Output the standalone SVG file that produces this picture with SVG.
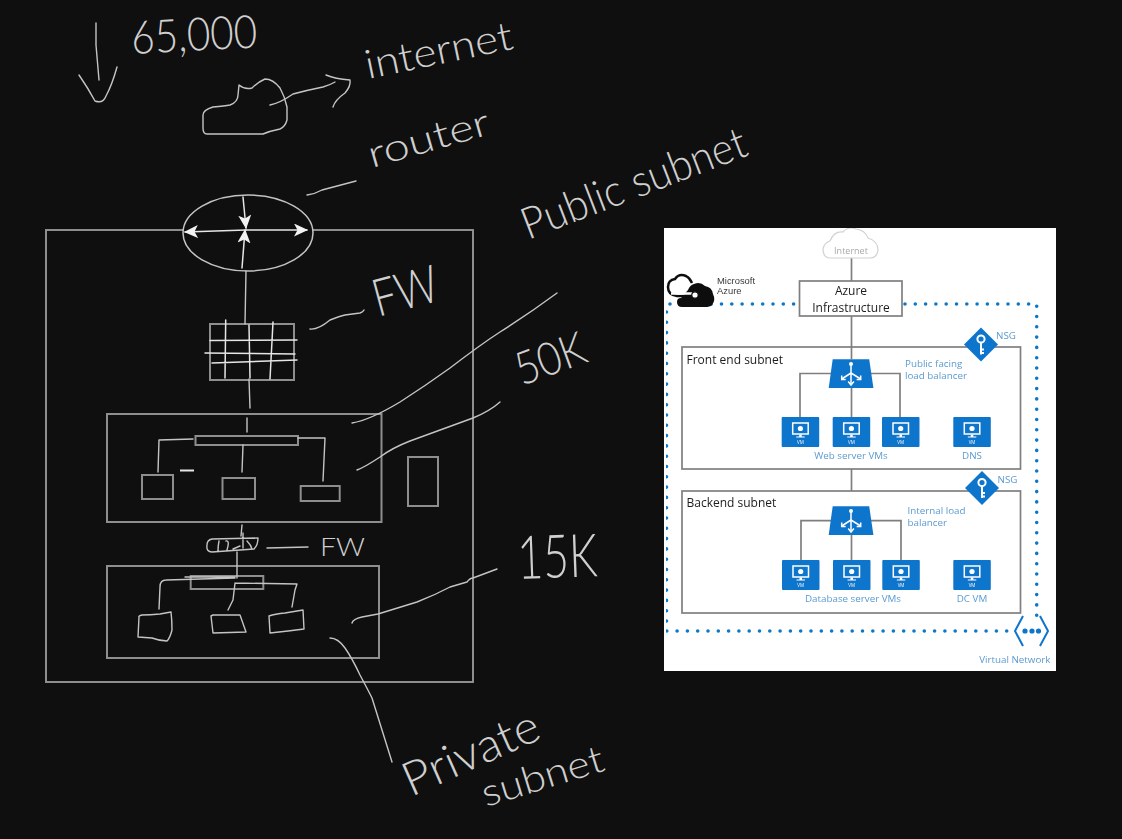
<svg xmlns="http://www.w3.org/2000/svg" xmlns:xlink="http://www.w3.org/1999/xlink" width="1122" height="839" viewBox="0 0 1122 839">
<defs>
<style>
.box{fill:none;stroke:#8e8e8e;stroke-width:2}
.ink{fill:none;stroke:#c4c4c4;stroke-width:1.4;stroke-linecap:round;stroke-linejoin:round}
.bright{fill:none;stroke:#e6e6e6;stroke-width:1.5;stroke-linecap:round}
.hand{font-family:"Lato","Open Sans","Liberation Sans",sans-serif;font-weight:300;fill:#cfcfcf}
.az{font-family:"Open Sans","Liberation Sans",sans-serif}
.pl{fill:none;stroke:#7f7f7f;stroke-width:1.7}
.dark{fill:#1c1c1c;font-size:12px}
.blue{fill:#5b9bd0;font-size:9.8px}
.dots{fill:none;stroke:#0f78c8;stroke-width:3.6;stroke-linecap:round;stroke-dasharray:0 10.3}
</style>
<marker id="ah" markerWidth="15" markerHeight="13" refX="13" refY="6.5" orient="auto" markerUnits="userSpaceOnUse"><path d="M0 0L14 6.500L0 13L3.500 6.500Z" fill="#f2f2f2"/></marker>
<filter id="soft" x="0" y="0" width="100%" height="100%"><feGaussianBlur stdDeviation="0.45"/></filter>
<symbol id="vm" viewBox="0 0 37.5 30" width="37.5" height="30" overflow="visible">
<rect width="37.5" height="30" rx="1" fill="#0f74cc"/>
<rect x="11" y="6" width="15.5" height="11" fill="none" stroke="#fff" stroke-width="1.5"/>
<circle cx="18.7" cy="11.5" r="2.6" fill="#fff"/>
<path d="M17.5 17.5h2.5v2h3v1h-8.500v-1h3z" fill="#fff"/>
<text x="18.700" y="27" text-anchor="middle" font-size="4.500" fill="#fff" font-family="Open Sans,Liberation Sans,sans-serif">VM</text>
</symbol>
<symbol id="lb" viewBox="0 0 45 29" width="45" height="29" overflow="visible">
<path d="M4 0.300H40.500L44.700 29H0Z" fill="#0f74cc"/>
<g fill="none" stroke="#fff" stroke-width="1.500"><path d="M22.300 5V25M22.300 14L13 20M22.300 14L32 20"/><path d="M19.500 22.500L22.300 26L25.200 22.500M13 16.500V20.500H17M32 16.500V20.500H28"/></g><circle cx="22.300" cy="5" r="2" fill="#fff"/>
</symbol>
<symbol id="nsg" viewBox="0 0 34 34" width="34" height="34" overflow="visible">
<path d="M17 0L34 17L17 34L0 17Z" fill="#0f74cc"/>
<circle cx="17" cy="11.500" r="3.600" fill="none" stroke="#fff" stroke-width="2"/>
<path d="M17 15V27M17 22H20M17 25.500H20" fill="none" stroke="#fff" stroke-width="2"/>
</symbol>
</defs>
<rect width="1122" height="839" fill="#0f0f0f"/>
<g id="sketch-boxes">
<rect id="outer-network" class="box" x="46" y="230" width="427" height="452"/>
<rect id="side-box" class="box" x="408" y="457" width="30" height="49"/>
</g>
<g id="router"><ellipse cx="248" cy="233" rx="65" ry="38" fill="#0f0f0f" stroke="#c4c4c4" stroke-width="1.500"/>
<path class="bright" d="M243 197L246 228" marker-end="url(#ah)"/><path class="bright" d="M242 268L245 230" marker-end="url(#ah)"/><path class="bright" d="M246 230L185 232" marker-end="url(#ah)"/><path class="bright" d="M246 230L307 230" marker-end="url(#ah)"/></g>
<g id="firewall"><rect class="box" x="210" y="324" width="84" height="56"/>
<path class="bright" d="M225.700 320L225 378M249 325L250 378M273 322L270 379M210 340.500L297 340M205 353L295 354M212 363L297 360"/></g>
<g id="public-subnet"><rect class="box" x="107" y="414" width="274.500" height="108"/>
<rect class="box" x="195.500" y="436" width="102.500" height="9"/>
<rect class="box" x="142" y="475" width="31" height="24"/><rect class="box" x="222.500" y="478" width="32.500" height="21"/><rect class="box" x="300.700" y="486" width="39" height="15"/>
<path d="M180 470.500H194" fill="none" stroke="#e6e6e6" stroke-width="2"/></g>
<g id="small-firewall"><path class="ink" d="M212 539L258 538Q258 545 254 549L212 552Q206 552 207 545Q207 540 212 539ZM219 541Q218 546 218 551M226 541Q230 540 227 550M233 549L240 546M243 533V548M247 541Q251 545 252 549"/></g>
<g id="private-subnet"><rect class="box" x="107" y="566" width="272" height="92"/>
<rect class="box" x="190.700" y="576" width="72.600" height="13"/>
<path class="ink" d="M139 617Q138 616 142 615Q150 615 160 614L171 612Q172 620 172 630Q170 638 167 641Q160 641 152 638L138 637Z"/><path class="ink" d="M211 616L213 615L240 615L246 632L213 633Z"/><path class="ink" d="M269 616Q275 614 285 613L303 610L304 629L288 631L270 633Z"/></g>
<g id="connectors">
<path class="ink" d="M96 23L96 45L99 80M79 75Q88 88 95 101Q103 104 106 96Q112 85 117 67"/>
<path class="ink" d="M203 115Q203 110 213 107Q225 106 230 105Q238 102 238 95L239 85Q245 90 252 88Q258 82 265 79Q273 79 280 88Q285 97 287 107V120Q285 127 280 129Q270 131 263 134H207Q203 134 203 128Z"/>
<path class="ink" d="M270 105Q280 103 293 94Q308 90 323 87Q330 85 335 82M326 75Q335 79 350 80Q351 86 345 93Q335 100 333 107"/>
<path class="ink" d="M307 195Q315 194 322 190L356 181"/>
<path class="ink" d="M246 271L245 324"/><path class="ink" d="M249 379L250 408"/>
<path class="ink" d="M310 329Q318 330 330 320Q340 316 345 315L360 313Q363 312 364 310"/>
<path class="ink" d="M247 418V432M193 439L159 440L158 472M243 445L242 472M298 438H325L323 481"/>
<path class="ink" d="M242 525L241 536M237 552V578M185 577H235M235 578L166 580Q160 580 160 587L159 609M235 583L233 600L228 610M235 583L297 584L295 590L292 607"/>
<path class="ink" d="M267 548L308 547"/>
<path class="ink" d="M352 423Q370 420 400 402Q425 386 450 368Q480 345 500 332Q530 313 557 293"/>
<path class="ink" d="M357 470Q365 467 380 457Q392 448 410 441L473 418Q490 411 500 402"/>
<path class="ink" d="M352 623Q353 619 362 617L378 614L417 602Q435 595 450 587L467 582Q470 578 473 578L497 569"/>
<path class="ink" d="M330 638Q338 638 345 648Q352 658 360 675Q368 690 372 698L392 762"/>
</g>
<g id="labels-sketch" class="hand">
<text id="t-65000" transform="translate(132 54) rotate(-3)" font-size="46" textLength="126" lengthAdjust="spacingAndGlyphs">65,000</text>
<text id="t-internet" transform="translate(368 79) rotate(-11.700)" font-size="40" textLength="150" lengthAdjust="spacingAndGlyphs">internet</text>
<text id="t-router" transform="translate(372 168) rotate(-16)" font-size="38" textLength="125" lengthAdjust="spacingAndGlyphs">router</text>
<text id="t-public" transform="translate(528 240) rotate(-21)" font-size="44" textLength="238" lengthAdjust="spacingAndGlyphs">Public subnet</text>
<text id="t-fw1" transform="translate(378 317) rotate(-15)" font-size="52" textLength="66" lengthAdjust="spacingAndGlyphs">FW</text>
<text id="t-50k" transform="translate(522 386) rotate(-20)" font-size="46" textLength="72" lengthAdjust="spacingAndGlyphs">50K</text>
<text id="t-fw2" x="320" y="556" font-size="26" textLength="45" lengthAdjust="spacingAndGlyphs">FW</text>
<text id="t-15k" transform="translate(518 579) rotate(-2)" font-size="60" textLength="80" lengthAdjust="spacingAndGlyphs">15K</text>
<text id="t-private" transform="translate(411 797) rotate(-24)" font-size="47" textLength="145" lengthAdjust="spacingAndGlyphs">Private</text>
<text id="t-subnet" transform="translate(486 807) rotate(-17)" font-size="38" textLength="126" lengthAdjust="spacingAndGlyphs">subnet</text>
</g>
<g id="azure-panel">
<rect x="664" y="228" width="392" height="443" fill="#fff"/>
<g filter="url(#soft)">
<g id="az-connectors">
<path class="pl" d="M851.500 258V281M851.500 316V359M851.500 388V417M832 373.500H800V417M871 373.500H900V417M851.500 469V491M851.500 535V560M832 520.700H801V560M871 520.700H901V560"/>
<path class="dots" d="M670 304H800M905 304H1036.700V625M666.500 312V631H1012"/>
</g>
<g id="az-internet"><path d="M829 258Q823 257 823 249Q824 243 830 241Q834 231 843 232Q848 226 856 229Q865 230 868 238Q878 241 878 250Q877 258 870 258Z" fill="#fff" stroke="#d2d2d2" stroke-width="1.200"/><text class="az" x="851" y="254" text-anchor="middle" font-size="9" fill="#a8a8a8">Internet</text></g>
<g id="az-logo"><path d="M684 296H677Q668 295 668 287Q668 280 675 279Q679 273 686 276Q690 278 692 283" fill="none" stroke="#111" stroke-width="2.500"/><path d="M677 302Q677 298 681 298L688 290Q690 285 694 284Q700 281 705 286Q712 287 713 294Q716 300 712 305Q710 307 705 307H682Q677 307 677 302Z" fill="#111"/><path d="M671 293.500H692" stroke="#fff" stroke-width="2.500" fill="none"/><circle cx="695" cy="295" r="3.200" fill="#fff" stroke="#111" stroke-width="1.200"/><text font-family="Liberation Sans,sans-serif" font-size="9.400" fill="#3a3a3a"><tspan x="717" y="283.500">Microsoft</tspan><tspan x="717" y="294">Azure</tspan></text></g>
<g id="az-infra"><rect x="799.500" y="281" width="102.500" height="35" fill="#fff" stroke="#7f7f7f" stroke-width="1.700"/><text class="az dark" text-anchor="middle"><tspan x="851" y="295">Azure</tspan><tspan x="851" y="311.500">Infrastructure</tspan></text></g>
<g id="az-front"><rect class="pl" x="682" y="347" width="338.500" height="122"/><text class="az dark" x="686.500" y="364">Front end subnet</text></g>
<g id="az-back"><rect class="pl" x="682" y="491" width="338.500" height="122"/><text class="az dark" x="686.500" y="507">Backend subnet</text></g>
<g id="az-lb1"><use xlink:href="#lb" href="#lb" x="828.700" y="359"/><text class="az blue" x="905" y="367">Public facing<tspan x="905" y="379">load balancer</tspan></text></g>
<g id="az-lb2"><use xlink:href="#lb" href="#lb" x="828.700" y="506"/><text class="az blue" x="907.500" y="514">Internal load<tspan x="907.500" y="526">balancer</tspan></text></g>
<g id="az-nsg1"><use xlink:href="#nsg" href="#nsg" x="964" y="327.500"/><text class="az blue" x="996" y="339">NSG</text></g>
<g id="az-nsg2"><use xlink:href="#nsg" href="#nsg" x="965" y="471"/><text class="az blue" x="997.500" y="483">NSG</text></g>
<g id="az-web1"><use xlink:href="#vm" href="#vm" x="781.700" y="417"/></g>
<g id="az-web2"><use xlink:href="#vm" href="#vm" x="832.700" y="417"/></g>
<g id="az-web3"><use xlink:href="#vm" href="#vm" x="882" y="417"/></g>
<g id="az-dns"><use xlink:href="#vm" href="#vm" x="953.300" y="417"/><text class="az blue" x="972" y="459" text-anchor="middle">DNS</text></g>
<text class="az blue" x="851" y="459" text-anchor="middle">Web server VMs</text>
<g id="az-db1"><use xlink:href="#vm" href="#vm" x="782" y="560"/></g>
<g id="az-db2"><use xlink:href="#vm" href="#vm" x="833" y="560"/></g>
<g id="az-db3"><use xlink:href="#vm" href="#vm" x="882.300" y="560"/></g>
<g id="az-dc"><use xlink:href="#vm" href="#vm" x="953.300" y="560"/><text class="az blue" x="972" y="602" text-anchor="middle">DC VM</text></g>
<text class="az blue" x="853" y="602" text-anchor="middle">Database server VMs</text>
<g id="az-vnet"><path d="M1023 616L1015 631L1023 646M1040 616L1048 631L1040 646" fill="none" stroke="#0f74cc" stroke-width="2"/><circle cx="1025" cy="631" r="2.600" fill="#0f74cc"/><circle cx="1032" cy="631" r="2.600" fill="#0f74cc"/><circle cx="1038.500" cy="631" r="2.600" fill="#0f74cc"/><text class="az blue" x="1050.500" y="662.500" text-anchor="end">Virtual Network</text></g>
</g>
</g>
</svg>
